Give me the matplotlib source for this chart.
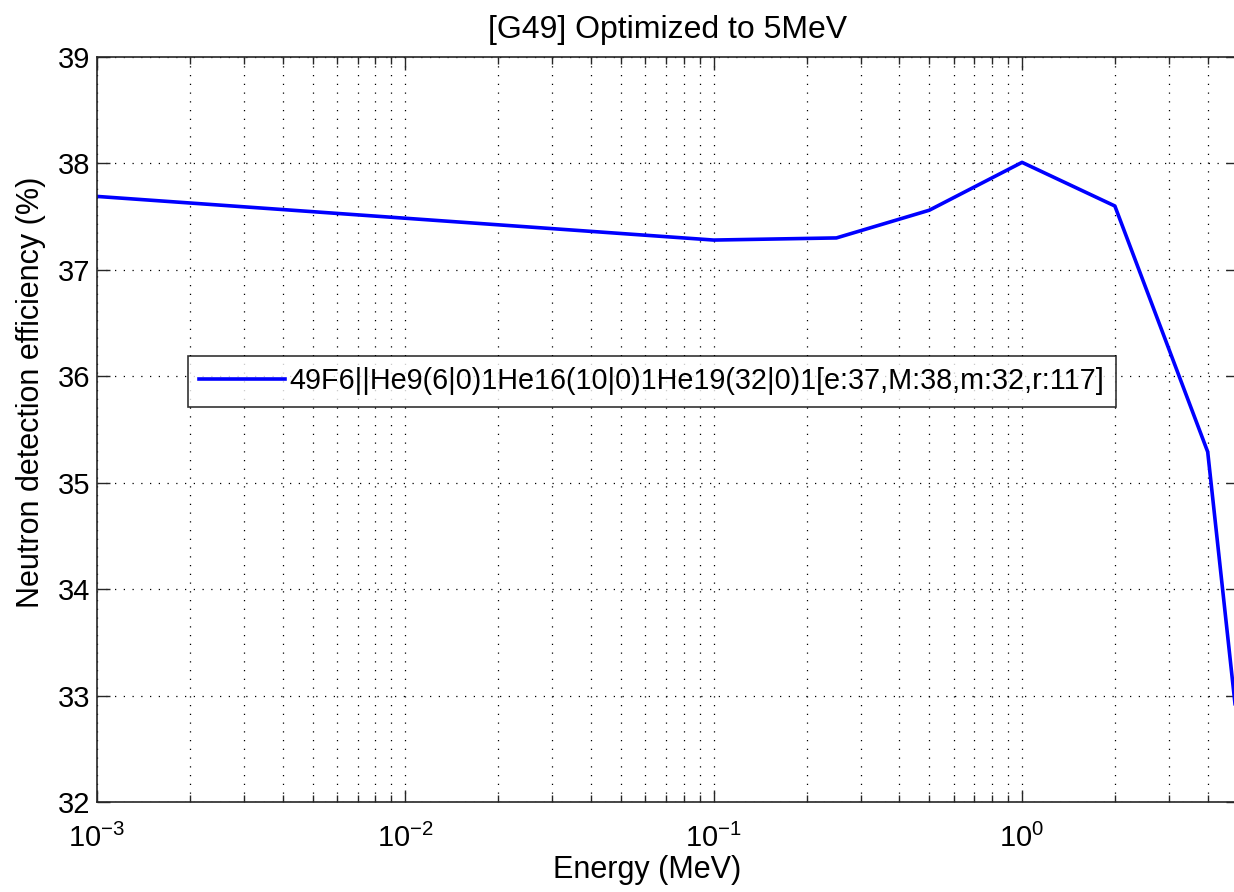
import matplotlib
matplotlib.use("Agg")
import matplotlib.pyplot as plt
from matplotlib.ticker import LogLocator, NullFormatter

plt.rcParams['font.family'] = ['Liberation Sans', 'DejaVu Sans']
plt.rcParams['mathtext.fontset'] = 'custom'
plt.rcParams['mathtext.rm'] = 'Liberation Sans'
plt.rcParams['mathtext.it'] = 'Liberation Sans'
plt.rcParams['mathtext.bf'] = 'Liberation Sans'

energy = [0.001, 0.1, 0.25, 0.5, 1.0, 2.0, 4.0, 5.0]
efficiency = [37.69, 37.28, 37.30, 37.56, 38.01, 37.60, 35.29, 32.7]
series_label = "49F6||He9(6|0)1He16(10|0)1He19(32|0)1[e:37,M:38,m:32,r:117]"
title = "[G49] Optimized to 5MeV"
xlabel = "Energy (MeV)"
ylabel = "Neutron detection efficiency (%)"
yticks = [32, 33, 34, 35, 36, 37, 38, 39]

fig = plt.figure(figsize=(12.34, 8.92), dpi=100)
ax = fig.add_axes([0.0786, 0.1009, 0.9243, 0.8352])
ax.plot(energy, efficiency, color=(0, 0, 1), lw=2.6, label=series_label)
ax.set_xscale('log')
ax.set_xlim(1e-3, 5)
ax.set_ylim(32, 39)
ax.set_yticks(yticks)
ax.xaxis.set_major_locator(LogLocator(base=10, numticks=10))
ax.xaxis.set_minor_locator(LogLocator(base=10, subs=range(2, 10), numticks=20))
ax.xaxis.set_minor_formatter(NullFormatter())

ax.grid(True, which='major', axis='both', color='black', linestyle=(0, (1, 6)), lw=0.9)
ax.grid(True, which='minor', axis='x', color='black', linestyle=(0, (1, 6)), lw=0.9)

for s in ax.spines.values():
    s.set_linewidth(1.2)
    s.set_color('#262626')
ax.tick_params(which='both', direction='in', top=True, right=True, labelsize=21, colors='#262626', labelcolor='black')
ax.tick_params(which='major', length=9, width=1.0)
ax.tick_params(which='minor', length=5, width=1.0)
ax.tick_params(axis='x', pad=16)
ax.tick_params(axis='y', pad=5)

ax.set_title(title, fontsize=23, pad=14)
ax.set_xlabel(xlabel, fontsize=22)
ax.xaxis.set_label_coords(0.482, -0.071)
ax.set_ylabel(ylabel, fontsize=22)
ax.yaxis.set_label_coords(-0.045, 0.55)

leg = ax.legend(loc='upper left', bbox_to_anchor=(0.0795, 0.599), fontsize=20.7,
                frameon=True, fancybox=False, handlelength=3.0, handletextpad=0.15,
                borderpad=0.4, borderaxespad=0)
leg.get_frame().set_edgecolor('black')
leg.get_frame().set_linewidth(1.2)

fig.savefig("out.png", dpi=100)
